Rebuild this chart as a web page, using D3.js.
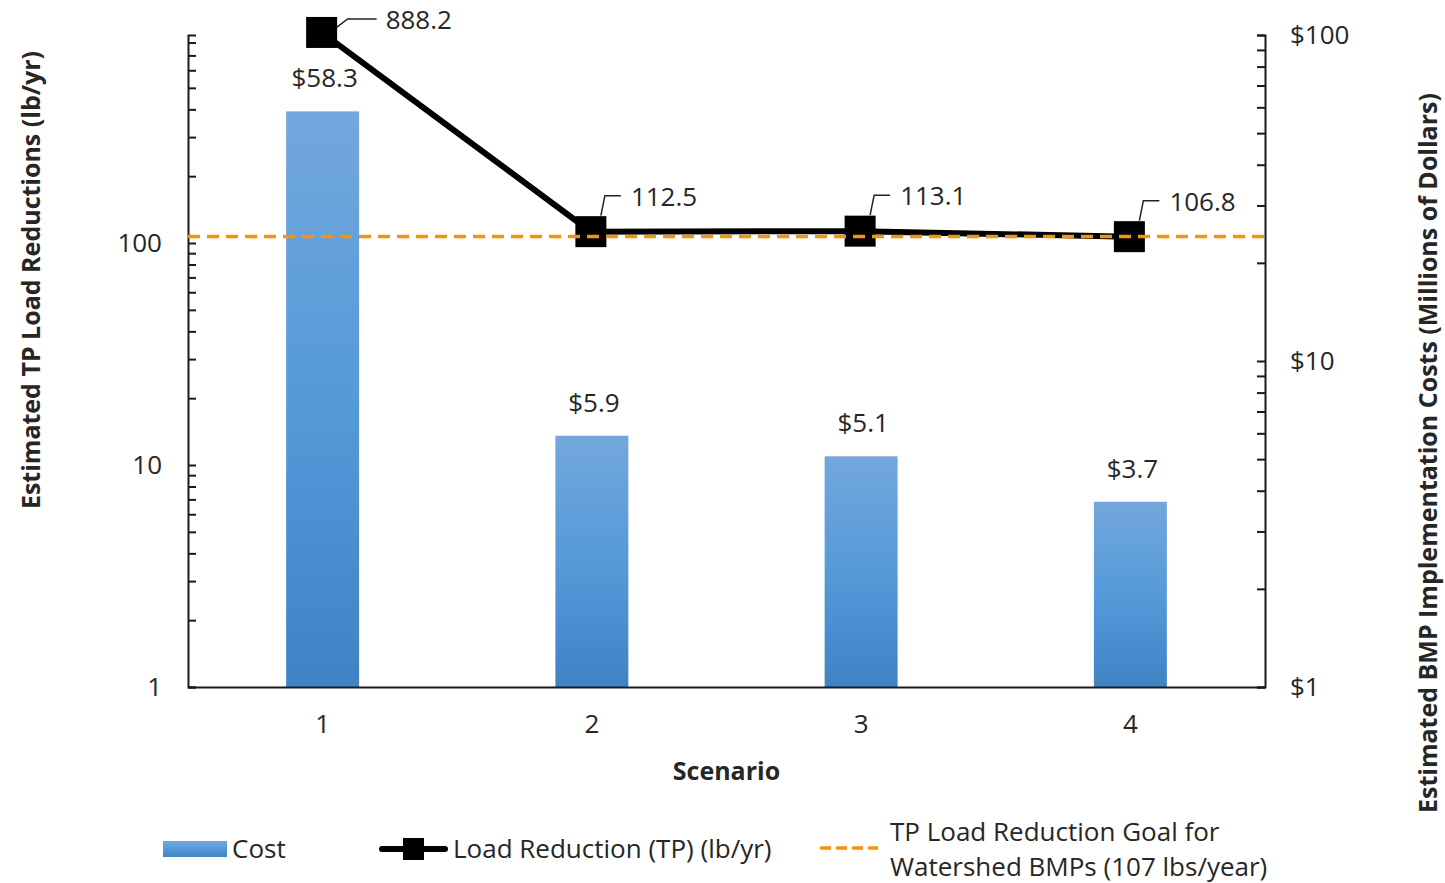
<!DOCTYPE html>
<html>
<head>
<meta charset="utf-8">
<script src="https://cdn.jsdelivr.net/npm/d3@7"></script>
<style>
body { margin:0; background:#fff; }
text { font-family: "Open Sans", Lato, sans-serif; fill:#262626; }
</style>
</head>
<body>
<script>
// chart data
var scenarios = ["1","2","3","4"];
var cost = [58.3, 5.9, 5.1, 3.7];
var loadReduction = [888.2, 112.5, 113.1, 106.8];
var goal = 107;
var leftMajor = [1, 10, 100];
var rightMajor = [1, 10, 100];

var W = 1445, H = 883;
var pLeft = 188, pRight = 1265, pTop = 35, pBottom = 687;
var FONT = '"Open Sans", sans-serif';
var FS = '26px', TFS = '25px';

var svg = d3.select('body').append('svg')
  .attr('width', W).attr('height', H);

var defs = svg.append('defs');
var grad = defs.append('linearGradient').attr('id','barGrad')
  .attr('x1',0).attr('y1',0).attr('x2',0).attr('y2',1);
grad.append('stop').attr('offset','0%').attr('stop-color','#73a7dd');
grad.append('stop').attr('offset','50%').attr('stop-color','#559ad9');
grad.append('stop').attr('offset','100%').attr('stop-color','#3f83c5');

var x = d3.scaleBand().domain(scenarios).range([pLeft, pRight])
  .paddingInner(0.729).paddingOuter(0.3645);
var yL = d3.scaleLog().domain([1, 865]).range([pBottom, pTop]);
var yR = d3.scaleLog().domain([1, 100]).range([pBottom, pTop]);

// bars (cost, right axis)
svg.selectAll('rect.bar').data(cost).enter().append('rect')
  .attr('class','bar')
  .attr('x', (d,i) => x(scenarios[i]))
  .attr('y', d => yR(d))
  .attr('width', x.bandwidth())
  .attr('height', d => pBottom - yR(d))
  .attr('fill','url(#barGrad)');

svg.selectAll('text.costlab').data(cost).enter().append('text')
  .attr('class','costlab')
  .attr('x', (d,i) => x(scenarios[i]) + x.bandwidth()/2 + 2)
  .attr('y', d => yR(d) - 33)
  .attr('dy','0.35em')
  .attr('text-anchor','middle')
  .style('font-size',FS)
  .text(d => '$' + d.toFixed(1));

// left axis
var axL = svg.append('g').attr('transform','translate(' + pLeft + ',0)')
  .call(d3.axisRight(yL).tickValues(yL.ticks()).tickFormat('').tickSize(8).tickSizeOuter(8));
var axLab = svg.append('g').attr('transform','translate(' + pLeft + ',0)')
  .call(d3.axisLeft(yL).tickValues(leftMajor).tickFormat(d3.format('d')).tickSize(0).tickPadding(26));

// right axis
var axR = svg.append('g').attr('transform','translate(' + pRight + ',0)')
  .call(d3.axisLeft(yR).tickValues(yR.ticks()).tickFormat('').tickSize(8).tickSizeOuter(8));
var axRLab = svg.append('g').attr('transform','translate(' + pRight + ',0)')
  .call(d3.axisRight(yR).tickValues(rightMajor).tickFormat(d => '$' + d).tickSize(0).tickPadding(25));

// x axis
var axX = svg.append('g').attr('transform','translate(0,' + pBottom + ')')
  .call(d3.axisBottom(x).tickSize(0).tickSizeOuter(0).tickPadding(28));

[axL, axR, axX].forEach(g => {
  g.selectAll('path.domain, line').attr('stroke','#1a1a1a').attr('stroke-width',2);
});
[axLab, axRLab].forEach(g => g.select('path.domain').remove());
[axLab, axRLab, axX].forEach(g => {
  g.selectAll('text').style('font-size',FS).style('font-family',FONT).attr('fill','#262626');
});

// load reduction line
var cx = (d,i) => x(scenarios[i]) + x.bandwidth()/2 - 1;
var line = d3.line().x((d,i) => cx(d,i)).y(d => yL(d));
svg.append('path').datum(loadReduction)
  .attr('d', line).attr('fill','none')
  .attr('stroke','#000').attr('stroke-width',6);

svg.selectAll('rect.mk').data(loadReduction).enter().append('rect')
  .attr('class','mk')
  .attr('x', (d,i) => cx(d,i) - 15.5)
  .attr('y', d => yL(d) - 15.5)
  .attr('width',31).attr('height',31)
  .attr('fill','#000');

// line labels with leader lines
loadReduction.forEach(function(d,i){
  var px = cx(d,i), py = yL(d);
  var ly = py - 36, pts;
  var tx;
  if (ly < 19) {
    ly = 19;
    pts = [[px+15, py-5],[px+26, ly],[px+55, ly]];
    tx = px + 64;
  } else {
    pts = [[px+10, py-16],[px+14, ly],[px+30, ly]];
    tx = px + 40;
  }
  svg.append('path').attr('d', d3.line()(pts))
    .attr('fill','none').attr('stroke','#222').attr('stroke-width',1.5);
  svg.append('text').attr('x', tx).attr('y', ly + 1)
    .attr('dy','0.35em').style('font-size',FS).text(d.toFixed(1));
});

// goal line
svg.append('line')
  .attr('x1', pLeft).attr('x2', pRight)
  .attr('y1', yL(goal)).attr('y2', yL(goal))
  .attr('stroke','#f7920a').attr('stroke-width',3.5)
  .attr('stroke-dasharray','12,7');

// axis titles
svg.append('text').text('Scenario')
  .attr('x', (pLeft+pRight)/2).attr('y', 771).attr('dy','0.35em')
  .attr('text-anchor','middle')
  .style('font-size',TFS).style('font-weight','bold');

svg.append('text').text('Estimated TP Load Reductions (lb/yr)')
  .attr('transform','translate(31,280) rotate(-90)')
  .attr('dy','0.35em').attr('text-anchor','middle')
  .style('font-size',TFS).style('font-weight','bold');

svg.append('text').text('Estimated BMP Implementation Costs (Millions of Dollars)')
  .attr('transform','translate(1428,453) rotate(-90)')
  .attr('dy','0.35em').attr('text-anchor','middle')
  .style('font-size',TFS).style('font-weight','bold');

// legend
var lg = svg.append('g');
lg.append('rect').attr('x',163).attr('y',841).attr('width',64).attr('height',16)
  .attr('fill','url(#barGrad)');
lg.append('text').attr('x',232).attr('y',849).attr('dy','0.35em')
  .style('font-size',FS).text('Cost');

lg.append('line').attr('x1',382).attr('x2',445).attr('y1',849).attr('y2',849)
  .attr('stroke','#000').attr('stroke-width',6).attr('stroke-linecap','round');
lg.append('rect').attr('x',403).attr('y',838).attr('width',21).attr('height',22).attr('fill','#000');
lg.append('text').attr('x',453).attr('y',849).attr('dy','0.35em')
  .style('font-size',FS).text('Load Reduction (TP) (lb/yr)');

lg.append('line').attr('x1',820).attr('x2',878).attr('y1',848).attr('y2',848)
  .attr('stroke','#f7920a').attr('stroke-width',3.5).attr('stroke-dasharray','11,5');
lg.append('text').attr('x',890).attr('y',832).attr('dy','0.35em')
  .style('font-size',FS).text('TP Load Reduction Goal for');
lg.append('text').attr('x',890).attr('y',867).attr('dy','0.35em')
  .style('font-size',FS).text('Watershed BMPs (107 lbs/year)');
</script>
</body>
</html>
